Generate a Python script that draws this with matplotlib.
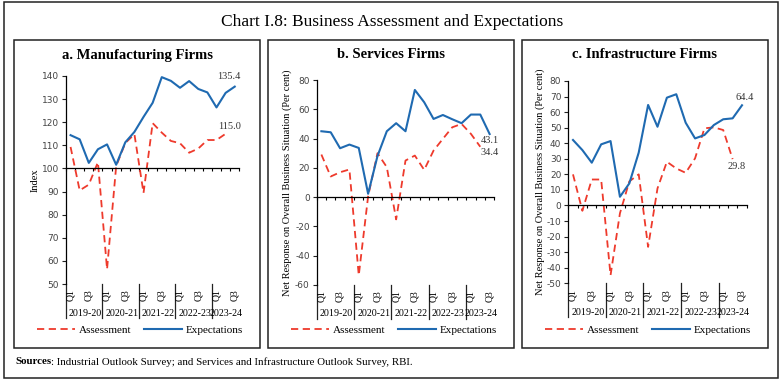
import numpy as np
import matplotlib
matplotlib.use("Agg")
import matplotlib.pyplot as plt
import matplotlib.transforms as mtransforms
from matplotlib.patches import Rectangle

plt.rcParams['axes.unicode_minus'] = False

W, H = 781, 383

years = ['2019-20', '2020-21', '2021-22', '2022-23', '2023-24']
quarters = ['Q1', 'Q2', 'Q3', 'Q4'] * 4 + ['Q1', 'Q2', 'Q3']

# a. Manufacturing (index)
mfg_assess = [109.3, 90.5, 93.0, 102.7, 56.4, 101.0, 111.0, 114.8, 89.4, 119.6,
              115.5, 111.9, 110.9, 106.8, 108.6, 112.3, 112.3, 115.0]
mfg_expect = [114.4, 112.6, 102.4, 108.3, 110.4, 101.6, 111.3, 115.8, 122.3, 128.4,
              139.5, 137.9, 134.9, 137.8, 134.4, 132.9, 126.4, 132.7, 135.4]
# b. Services (net response, per cent)
srv_assess = [29.1, 14.1, 17.0, 18.9, -53.4, 0.5, 30.0, 20.5, -15.2, 25.0,
              28.4, 18.6, 31.8, 39.8, 47.7, 50.0, 43.2, 34.4]
srv_expect = [45.0, 44.3, 33.4, 35.9, 33.6, 2.3, 28.0, 45.0, 50.5, 45.0,
              73.2, 64.8, 53.4, 56.1, 53.2, 50.5, 56.4, 56.4, 43.1]
# c. Infrastructure (net response, per cent)
inf_assess = [20.0, -3.4, 16.7, 16.7, -44.8, -5.0, 15.5, 20.0, -26.6, 11.0,
              28.1, 23.8, 21.0, 30.3, 49.6, 50.2, 48.5, 29.8]
inf_expect = [42.1, 35.6, 27.5, 39.3, 41.4, 5.6, 14.2, 34.0, 64.6, 50.6,
              69.3, 71.5, 53.2, 43.1, 45.3, 51.7, 55.4, 56.0, 64.4]

RED = '#EE3A2C'
BLUE = '#1F6AB1'
SERIF = 'Liberation Serif'

fig = plt.figure(figsize=(W / 100, H / 100), dpi=100)


def px_rect(x0, y0, x1, y1):
    return [x0 / W, (H - y1) / H, (x1 - x0) / W, (y1 - y0) / H]


def fy(ypix):
    return (H - ypix) / H


# outer frame and panel frames
fig.patches.append(Rectangle((4 / W, fy(378)), 774 / W, 376 / H, transform=fig.transFigure,
                             fill=False, ec='#222222', lw=1.1))
fig.text(392 / W, fy(22), 'Chart I.8: Business Assessment and Expectations',
         ha='center', va='center', fontsize=12.5, family=SERIF)

panels = [
    dict(title='a. Manufacturing Firms', box=(14, 40, 260, 348), ax=(66, 76, 239.3, 284),
         ylim=(50, 140), yticks=np.arange(50, 141, 10), base=100, ylabel='Index',
         ylab_x=35, assess=mfg_assess, expect=mfg_expect),
    dict(title='b. Services Firms', box=(268, 40, 514, 348), ax=(316.7, 80, 494.3, 285),
         ylim=(-60, 80), yticks=np.arange(-60, 81, 20), base=0,
         ylabel='Net Response on Overall Business Situation (Per cent)',
         ylab_x=287, assess=srv_assess, expect=srv_expect),
    dict(title='c. Infrastructure Firms', box=(522, 40, 768, 348), ax=(568.3, 81, 746.7, 283.3),
         ylim=(-50, 80), yticks=np.arange(-50, 81, 10), base=0,
         ylabel='Net Response on Overall Business Situation (Per cent)',
         ylab_x=540, assess=inf_assess, expect=inf_expect),
]

for k, p in enumerate(panels):
    bx0, by0, bx1, by1 = p['box']
    fig.patches.append(Rectangle((bx0 / W, fy(by1)), (bx1 - bx0) / W, (by1 - by0) / H,
                                 transform=fig.transFigure, fill=False, ec='#222222', lw=1.1))
    fig.text((bx0 + bx1) / 2 / W, fy(55), p['title'], ha='center', va='center',
             fontsize=10.5, family=SERIF, fontweight='bold')

    ax = fig.add_axes(px_rect(*p['ax']))
    ax.set_facecolor('none')
    xa = np.arange(len(p['assess']))
    xe = np.arange(len(p['expect']))
    ax.plot(xa, p['assess'], color=RED, lw=1.3, ls=(0, (4, 2.5)), label='Assessment')
    ax.plot(xe, p['expect'], color=BLUE, lw=1.5, label='Expectations')

    ax.set_xlim(-0.5, 18.5)
    ax.set_ylim(*p['ylim'])
    ax.set_yticks(p['yticks'])
    ax.tick_params(axis='y', labelsize=6.5, length=3, width=0.8, colors='#444444', pad=2)
    ax.tick_params(axis='y', color='#222222')
    for s in ['top', 'right']:
        ax.spines[s].set_visible(False)
    ax.spines['left'].set_linewidth(0.9)
    ax.spines['bottom'].set_position(('data', p['base']))
    ax.spines['bottom'].set_linewidth(0.9)
    ax.set_xticks(np.arange(-0.5, 18.6, 1))
    ax.set_xticklabels([])
    ax.tick_params(axis='x', length=2.5, width=0.8, direction='out')

    fig.text(p['ylab_x'] / W, fy((p['ax'][1] + p['ax'][3]) / 2), p['ylabel'], rotation=90,
             ha='center', va='center', fontsize=7.5, family=SERIF)

    tr = mtransforms.blended_transform_factory(ax.transData, fig.transFigure)
    ybot = p['ax'][3]
    for i, q in enumerate(quarters):
        if q in ('Q1', 'Q3'):
            ax.text(i, fy(ybot + 11.5), q, transform=tr, rotation=90, ha='center',
                    va='center', fontsize=7, family=SERIF, clip_on=False)
    for g, yr in enumerate(years):
        start = g * 4 - 0.5
        end = min(g * 4 + 3.5, 18.5)
        ax.plot([start, start], [fy(ybot), fy(ybot + 34)], transform=tr, color='#222222',
                lw=0.9, clip_on=False)
        ax.text((start + end) / 2 + 0.1, fy(ybot + 29), yr, transform=tr, ha='center',
                va='center', fontsize=7.2, family=SERIF, clip_on=False)

    ax.legend(loc='center', bbox_to_anchor=((bx0 + bx1) / 2 / W + 3 / W, fy(330)),
              bbox_transform=fig.transFigure, ncol=2, frameon=False,
              handlelength=3.4, columnspacing=1.1, handletextpad=0.35,
              prop={'family': SERIF, 'size': 8})

    # end-point labels
    la, le = p['assess'], p['expect']
    if k == 0:
        ax.annotate(f'{le[-1]:.1f}', (len(le) - 1, le[-1]), xytext=(-4, 4), textcoords='offset points',
                    ha='center', va='bottom', fontsize=7.5, family=SERIF, color='#333333')
        ax.annotate(f'{la[-1]:.1f}', (len(la) - 1, la[-1]), xytext=(3, 2), textcoords='offset points',
                    ha='center', va='bottom', fontsize=7.5, family=SERIF, color='#333333')
    elif k == 1:
        ax.annotate(f'{le[-1]:.1f}', (len(le) - 1, le[-1]), xytext=(0, -1.5), textcoords='offset points',
                    ha='center', va='top', fontsize=7.5, family=SERIF, color='#333333')
        ax.annotate(f'{la[-1]:.1f}', (len(la) - 1, la[-1]), xytext=(7, -1), textcoords='offset points',
                    ha='center', va='top', fontsize=7.5, family=SERIF, color='#333333')
    else:
        ax.annotate(f'{le[-1]:.1f}', (len(le) - 1, le[-1]), xytext=(2, 2), textcoords='offset points',
                    ha='center', va='bottom', fontsize=7.5, family=SERIF, color='#333333')
        ax.annotate(f'{la[-1]:.1f}', (len(la) - 1, la[-1]), xytext=(3, -2), textcoords='offset points',
                    ha='center', va='top', fontsize=7.5, family=SERIF, color='#333333')

# sources line
t1 = fig.text(15 / W, fy(362), 'Sources', ha='left', va='center', fontsize=7.8,
              family=SERIF, fontweight='bold')
fig.canvas.draw()
bb = t1.get_window_extent()
fig.text(bb.x1 / W, fy(362), ': Industrial Outlook Survey; and Services and Infrastructure Outlook Survey, RBI.',
         ha='left', va='center', fontsize=7.8, family=SERIF)

fig.savefig('out.png', dpi=100)
